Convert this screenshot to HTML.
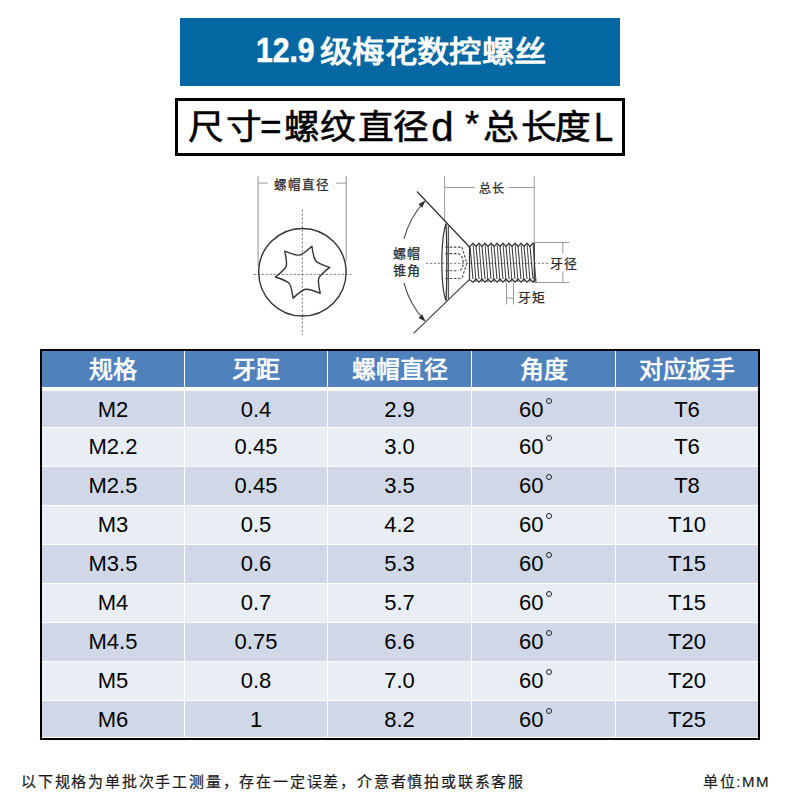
<!DOCTYPE html>
<html lang="zh-CN"><head><meta charset="utf-8">
<style>
*{margin:0;padding:0;box-sizing:border-box}
html,body{width:800px;height:800px;background:#fff;overflow:hidden;position:relative;font-family:"Liberation Sans",sans-serif}
.abs{position:absolute}
#title{left:180px;top:18px;width:440px;height:67.6px;background:#0568a2}
#sub{left:175px;top:98px;width:450px;height:58px;border:3px solid #000}
#tblb{left:40px;top:349px;width:720px;height:391px;border:2px solid #000;background:#fff}
.hd{position:absolute;top:351px;height:35.5px;background:#4f81bd;color:#fff;font-family:"Liberation Serif",serif;font-weight:normal;-webkit-text-stroke:0.7px #fff;font-size:24px;line-height:38px;text-align:center}
.rw{position:absolute;line-height:37px;font-size:22px;text-align:center;color:#000}
.d{background:#d0d8e8}.l{background:#e9edf4}
.deg{display:inline-block;width:6px;height:6px;border:1px solid #222;border-radius:50%;vertical-align:top;margin-top:7px;margin-left:3px;margin-right:15.5px}
#foot{left:21px;top:770.7px;font-size:15px;line-height:22px;color:#1a1a1a;letter-spacing:1.8px;-webkit-text-stroke:0.2px #1a1a1a;white-space:nowrap}
#unit{left:703px;top:770.7px;font-size:15px;line-height:22px;color:#1a1a1a;letter-spacing:1.6px;-webkit-text-stroke:0.2px #1a1a1a;white-space:nowrap}
#drw{position:absolute;left:0;top:0}
.g{position:absolute;white-space:nowrap;line-height:1;transform-origin:0 0}

</style></head><body>
<div id="title" class="abs"></div>
<div id="sub" class="abs"></div>
<div class="g" style="left:256.4px;top:32.3px;color:#fff;font-weight:bold;font-size:35px;-webkit-text-stroke:0.6px #fff;transform:scaleX(0.86)">12.9</div>
<div class="g" style="left:319.8px;top:36.6px;color:#fff;font-weight:bold;font-size:30px;transform:scaleX(1.079)">级梅花数控螺丝</div>
<div class="g" style="left:187.5px;top:109.5px;color:#000;font-size:34px;-webkit-text-stroke:0.6px #000;transform:scaleX(1.05)">尺</div>
<div class="g" style="left:225.8px;top:109.5px;color:#000;font-size:34px;-webkit-text-stroke:0.6px #000;transform:scaleX(1.05)">寸</div>
<div class="g" style="left:283.5px;top:109.5px;color:#000;font-size:34px;-webkit-text-stroke:0.6px #000;transform:scaleX(1.05)">螺</div>
<div class="g" style="left:320.4px;top:109.5px;color:#000;font-size:34px;-webkit-text-stroke:0.6px #000;transform:scaleX(1.05)">纹</div>
<div class="g" style="left:357.8px;top:109.5px;color:#000;font-size:34px;-webkit-text-stroke:0.6px #000;transform:scaleX(1.05)">直</div>
<div class="g" style="left:393.3px;top:109.5px;color:#000;font-size:34px;-webkit-text-stroke:0.6px #000;transform:scaleX(1.05)">径</div>
<div class="g" style="left:483.4px;top:109.5px;color:#000;font-size:34px;-webkit-text-stroke:0.6px #000;transform:scaleX(1.05)">总</div>
<div class="g" style="left:521.3px;top:109.5px;color:#000;font-size:34px;-webkit-text-stroke:0.6px #000;transform:scaleX(1.05)">长</div>
<div class="g" style="left:554.8px;top:109.5px;color:#000;font-size:34px;-webkit-text-stroke:0.6px #000;transform:scaleX(1.05)">度</div>
<div class="g" style="left:260px;top:107.7px;color:#000;font-size:37px;-webkit-text-stroke:0.4px #000">=</div>
<div class="g" style="left:431.25px;top:107px;color:#000;font-size:40px;-webkit-text-stroke:0.5px #000">d</div>
<div class="g" style="left:464.9px;top:106.6px;color:#000;font-size:36px;-webkit-text-stroke:0.4px #000">*</div>
<div class="g" style="left:593.8px;top:106.6px;color:#000;font-size:40px;-webkit-text-stroke:0.5px #000;transform:scaleX(0.86)">L</div>
<svg id="drw" width="800" height="800" viewBox="0 0 800 800" font-family="Liberation Sans, sans-serif">
<line x1="258.1" y1="175.9" x2="258.1" y2="266" stroke="#9a9a9a" stroke-width="1.1" />
<line x1="346.2" y1="175.9" x2="346.2" y2="261" stroke="#9a9a9a" stroke-width="1.1" />
<line x1="258.1" y1="183.1" x2="267.7" y2="183.1" stroke="#9a9a9a" stroke-width="1" />
<line x1="336" y1="183.1" x2="346.2" y2="183.1" stroke="#9a9a9a" stroke-width="1" />
<text x="301.6" y="188.6" font-size="12.6" fill="#2a2a2a" stroke="#2a2a2a" stroke-width="0.25" text-anchor="middle" letter-spacing="1.0">螺帽直径</text>
<line x1="253.6" y1="274.4" x2="351.5" y2="274.4" stroke="#7a7a7a" stroke-width="1" stroke-dasharray="2.3 1.7"/>
<line x1="302.3" y1="209.6" x2="302.3" y2="335" stroke="#7a7a7a" stroke-width="1" stroke-dasharray="2.3 1.7"/>
<circle cx="302.4" cy="272.25" r="43.7" fill="none" stroke="#333" stroke-width="1.4"/>
<path d="M329.68,267.41 C316.78,277.40 316.78,277.40 320.24,293.34 C305.14,287.17 305.14,287.17 293.06,298.14 C290.86,281.97 290.86,281.97 275.32,276.99 C288.22,267.00 288.22,267.00 284.76,251.06 C299.86,257.23 299.86,257.23 311.94,246.26 C314.14,262.43 314.14,262.43 329.68,267.41 Z" fill="none" stroke="#333" stroke-width="1.4" stroke-linejoin="round"/>
<line x1="444.6" y1="176.2" x2="444.6" y2="222" stroke="#9a9a9a" stroke-width="1" />
<line x1="534.2" y1="176.2" x2="534.2" y2="242.5" stroke="#9a9a9a" stroke-width="1" />
<line x1="444.6" y1="187.5" x2="474.9" y2="187.5" stroke="#9a9a9a" stroke-width="1" />
<line x1="508.6" y1="187.5" x2="534.2" y2="187.5" stroke="#9a9a9a" stroke-width="1" />
<text x="491.9" y="193.2" font-size="12" fill="#2a2a2a" stroke="#2a2a2a" stroke-width="0.25" text-anchor="middle" letter-spacing="0.8">总长</text>
<line x1="426" y1="263.3" x2="549" y2="263.3" stroke="#7a7a7a" stroke-width="1" stroke-dasharray="2.3 1.7"/>
<line x1="417" y1="191.5" x2="469.5" y2="247" stroke="#2e2e2e" stroke-width="1.2" />
<line x1="413.6" y1="333.4" x2="469.2" y2="279.7" stroke="#3a3a3a" stroke-width="1.1" />
<path d="M446,223.5 C440.5,240 440.5,285 446,300.8 C447,285 447,240 446,223.5 Z" fill="none" stroke="#333" stroke-width="1.2"/>
<line x1="448.4" y1="224.5" x2="448.4" y2="300" stroke="#555" stroke-width="1.3" />
<line x1="445.4" y1="247.1" x2="462" y2="247.1" stroke="#444" stroke-width="1.1" stroke-dasharray="2.6 1.6"/>
<line x1="445.4" y1="278.5" x2="462" y2="278.5" stroke="#444" stroke-width="1.1" stroke-dasharray="2.6 1.6"/>
<line x1="445.4" y1="253.6" x2="458" y2="253.6" stroke="#444" stroke-width="1.1" stroke-dasharray="2.6 1.6"/>
<line x1="445.4" y1="270.8" x2="458" y2="270.8" stroke="#444" stroke-width="1.1" stroke-dasharray="2.6 1.6"/>
<path d="M462,247.1 L466.8,263.1 L462,278.5" fill="none" stroke="#444" stroke-width="1.1" stroke-dasharray="2.6 1.6"/>
<path d="M458,253.6 Q463.5,256 463,263 Q463.5,270 458,270.8" fill="none" stroke="#444" stroke-width="1.1" stroke-dasharray="2.6 1.6"/>
<polyline points="469.5,247.0 470.0,246.3 473.0,243.1 476.0,246.3 479.0,243.1 482.0,246.3 485.0,243.1 488.0,246.3 491.0,243.1 494.0,246.3 497.0,243.1 500.0,246.3 503.0,243.1 506.0,246.3 509.0,243.1 512.0,246.3 515.0,243.1 518.0,246.3 521.0,243.1 524.0,246.3 527.0,243.1 530.0,246.3 533.0,243.1 534.3,243.4" fill="none" stroke="#333" stroke-width="1.2" stroke-linejoin="miter"/>
<polyline points="469.5,279.7 473.0,282.2 476.0,279.0 479.0,282.2 482.0,279.0 485.0,282.2 488.0,279.0 491.0,282.2 494.0,279.0 497.0,282.2 500.0,279.0 503.0,282.2 506.0,279.0 509.0,282.2 512.0,279.0 515.0,282.2 518.0,279.0 521.0,282.2 524.0,279.0 527.0,282.2 530.0,279.0 533.0,282.2 536.0,279.0 534.3,280.0" fill="none" stroke="#333" stroke-width="1.2" stroke-linejoin="miter"/>
<line x1="470" y1="246.3" x2="473.0" y2="279.0" stroke="#333" stroke-width="1.05" />
<line x1="473" y1="243.1" x2="476.0" y2="282.2" stroke="#444" stroke-width="1.0" />
<line x1="476" y1="246.3" x2="479.0" y2="279.0" stroke="#333" stroke-width="1.05" />
<line x1="479" y1="243.1" x2="482.0" y2="282.2" stroke="#444" stroke-width="1.0" />
<line x1="482" y1="246.3" x2="485.0" y2="279.0" stroke="#333" stroke-width="1.05" />
<line x1="485" y1="243.1" x2="488.0" y2="282.2" stroke="#444" stroke-width="1.0" />
<line x1="488" y1="246.3" x2="491.0" y2="279.0" stroke="#333" stroke-width="1.05" />
<line x1="491" y1="243.1" x2="494.0" y2="282.2" stroke="#444" stroke-width="1.0" />
<line x1="494" y1="246.3" x2="497.0" y2="279.0" stroke="#333" stroke-width="1.05" />
<line x1="497" y1="243.1" x2="500.0" y2="282.2" stroke="#444" stroke-width="1.0" />
<line x1="500" y1="246.3" x2="503.0" y2="279.0" stroke="#333" stroke-width="1.05" />
<line x1="503" y1="243.1" x2="506.0" y2="282.2" stroke="#444" stroke-width="1.0" />
<line x1="506" y1="246.3" x2="509.0" y2="279.0" stroke="#333" stroke-width="1.05" />
<line x1="509" y1="243.1" x2="512.0" y2="282.2" stroke="#444" stroke-width="1.0" />
<line x1="512" y1="246.3" x2="515.0" y2="279.0" stroke="#333" stroke-width="1.05" />
<line x1="515" y1="243.1" x2="518.0" y2="282.2" stroke="#444" stroke-width="1.0" />
<line x1="518" y1="246.3" x2="521.0" y2="279.0" stroke="#333" stroke-width="1.05" />
<line x1="521" y1="243.1" x2="524.0" y2="282.2" stroke="#444" stroke-width="1.0" />
<line x1="524" y1="246.3" x2="527.0" y2="279.0" stroke="#333" stroke-width="1.05" />
<line x1="527" y1="243.1" x2="530.0" y2="282.2" stroke="#444" stroke-width="1.0" />
<line x1="530" y1="246.3" x2="533.0" y2="279.0" stroke="#333" stroke-width="1.05" />
<line x1="533" y1="243.1" x2="536.0" y2="282.2" stroke="#444" stroke-width="1.0" />
<line x1="469.5" y1="247" x2="469.5" y2="279.7" stroke="#333" stroke-width="1.2" />
<line x1="534.3" y1="243.1" x2="534.3" y2="282.2" stroke="#333" stroke-width="1.2" />
<line x1="534.2" y1="242.5" x2="569" y2="242.5" stroke="#9a9a9a" stroke-width="1" />
<line x1="534.2" y1="282.5" x2="569" y2="282.5" stroke="#9a9a9a" stroke-width="1" />
<line x1="562.8" y1="242.5" x2="562.8" y2="253.5" stroke="#9a9a9a" stroke-width="1" />
<line x1="562.8" y1="271.5" x2="562.8" y2="282.5" stroke="#9a9a9a" stroke-width="1" />
<text x="563.6" y="268.3" font-size="12.8" fill="#2a2a2a" stroke="#2a2a2a" stroke-width="0.25" text-anchor="middle" letter-spacing="0.6">牙径</text>
<line x1="506.5" y1="283" x2="506.5" y2="304.5" stroke="#9a9a9a" stroke-width="1" />
<line x1="513.5" y1="283" x2="513.5" y2="304.5" stroke="#9a9a9a" stroke-width="1" />
<line x1="506.5" y1="298" x2="513.5" y2="298" stroke="#9a9a9a" stroke-width="1" />
<text x="531.6" y="301.5" font-size="12.8" fill="#2a2a2a" stroke="#2a2a2a" stroke-width="0.25" text-anchor="middle" letter-spacing="0.6">牙矩</text>
<path d="M424.50,201.50 A87.6,87.6 0 0 0 404.02,238.95" fill="none" stroke="#444" stroke-width="1.1"/>
<path d="M404.04,283.12 A87.6,87.6 0 0 0 424.55,320.54" fill="none" stroke="#444" stroke-width="1.1"/>
<path d="M425.47,200.47 L422.17,207.69 L418.41,204.10 Z" fill="#333"/>
<path d="M425.52,321.57 L418.45,317.95 L422.21,314.36 Z" fill="#333"/>
<text x="407.1" y="258.4" font-size="13" fill="#2a2a2a" stroke="#2a2a2a" stroke-width="0.25" text-anchor="middle" letter-spacing="0.6">螺帽</text>
<text x="407.1" y="275.0" font-size="13" fill="#2a2a2a" stroke="#2a2a2a" stroke-width="0.25" text-anchor="middle" letter-spacing="0.6">锥角</text>
</svg>
<div id="tblb" class="abs"></div>
<div class="hd" style="left:42px;width:142px">规格</div>
<div class="hd" style="left:185px;width:142px">牙距</div>
<div class="hd" style="left:328px;width:143px">螺帽直径</div>
<div class="hd" style="left:472px;width:143px">角度</div>
<div class="hd" style="left:616px;width:142px">对应扳手</div>
<div class="rw d" style="left:42px;width:142px;top:390.5px;height:36px">M2</div>
<div class="rw d" style="left:185px;width:142px;top:390.5px;height:36px">0.4</div>
<div class="rw d" style="left:328px;width:143px;top:390.5px;height:36px">2.9</div>
<div class="rw d" style="left:472px;width:143px;top:390.5px;height:36px">60<span class="deg"></span></div>
<div class="rw d" style="left:616px;width:142px;top:390.5px;height:36px">T6</div>
<div class="rw l" style="left:42px;width:142px;top:428px;height:37.5px">M2.2</div>
<div class="rw l" style="left:185px;width:142px;top:428px;height:37.5px">0.45</div>
<div class="rw l" style="left:328px;width:143px;top:428px;height:37.5px">3.0</div>
<div class="rw l" style="left:472px;width:143px;top:428px;height:37.5px">60<span class="deg"></span></div>
<div class="rw l" style="left:616px;width:142px;top:428px;height:37.5px">T6</div>
<div class="rw d" style="left:42px;width:142px;top:467px;height:37.5px">M2.5</div>
<div class="rw d" style="left:185px;width:142px;top:467px;height:37.5px">0.45</div>
<div class="rw d" style="left:328px;width:143px;top:467px;height:37.5px">3.5</div>
<div class="rw d" style="left:472px;width:143px;top:467px;height:37.5px">60<span class="deg"></span></div>
<div class="rw d" style="left:616px;width:142px;top:467px;height:37.5px">T8</div>
<div class="rw l" style="left:42px;width:142px;top:506px;height:37.5px">M3</div>
<div class="rw l" style="left:185px;width:142px;top:506px;height:37.5px">0.5</div>
<div class="rw l" style="left:328px;width:143px;top:506px;height:37.5px">4.2</div>
<div class="rw l" style="left:472px;width:143px;top:506px;height:37.5px">60<span class="deg"></span></div>
<div class="rw l" style="left:616px;width:142px;top:506px;height:37.5px">T10</div>
<div class="rw d" style="left:42px;width:142px;top:545px;height:37.5px">M3.5</div>
<div class="rw d" style="left:185px;width:142px;top:545px;height:37.5px">0.6</div>
<div class="rw d" style="left:328px;width:143px;top:545px;height:37.5px">5.3</div>
<div class="rw d" style="left:472px;width:143px;top:545px;height:37.5px">60<span class="deg"></span></div>
<div class="rw d" style="left:616px;width:142px;top:545px;height:37.5px">T15</div>
<div class="rw l" style="left:42px;width:142px;top:584px;height:37.5px">M4</div>
<div class="rw l" style="left:185px;width:142px;top:584px;height:37.5px">0.7</div>
<div class="rw l" style="left:328px;width:143px;top:584px;height:37.5px">5.7</div>
<div class="rw l" style="left:472px;width:143px;top:584px;height:37.5px">60<span class="deg"></span></div>
<div class="rw l" style="left:616px;width:142px;top:584px;height:37.5px">T15</div>
<div class="rw d" style="left:42px;width:142px;top:623px;height:37.5px">M4.5</div>
<div class="rw d" style="left:185px;width:142px;top:623px;height:37.5px">0.75</div>
<div class="rw d" style="left:328px;width:143px;top:623px;height:37.5px">6.6</div>
<div class="rw d" style="left:472px;width:143px;top:623px;height:37.5px">60<span class="deg"></span></div>
<div class="rw d" style="left:616px;width:142px;top:623px;height:37.5px">T20</div>
<div class="rw l" style="left:42px;width:142px;top:662px;height:37.5px">M5</div>
<div class="rw l" style="left:185px;width:142px;top:662px;height:37.5px">0.8</div>
<div class="rw l" style="left:328px;width:143px;top:662px;height:37.5px">7.0</div>
<div class="rw l" style="left:472px;width:143px;top:662px;height:37.5px">60<span class="deg"></span></div>
<div class="rw l" style="left:616px;width:142px;top:662px;height:37.5px">T20</div>
<div class="rw d" style="left:42px;width:142px;top:701px;height:35.8px">M6</div>
<div class="rw d" style="left:185px;width:142px;top:701px;height:35.8px">1</div>
<div class="rw d" style="left:328px;width:143px;top:701px;height:35.8px">8.2</div>
<div class="rw d" style="left:472px;width:143px;top:701px;height:35.8px">60<span class="deg"></span></div>
<div class="rw d" style="left:616px;width:142px;top:701px;height:35.8px">T25</div>
<div id="foot" class="abs">以下规格为单批次手工测量，存在一定误差，介意者慎拍或联系客服</div>
<div id="unit" class="abs">单位:MM</div>
</body></html>
